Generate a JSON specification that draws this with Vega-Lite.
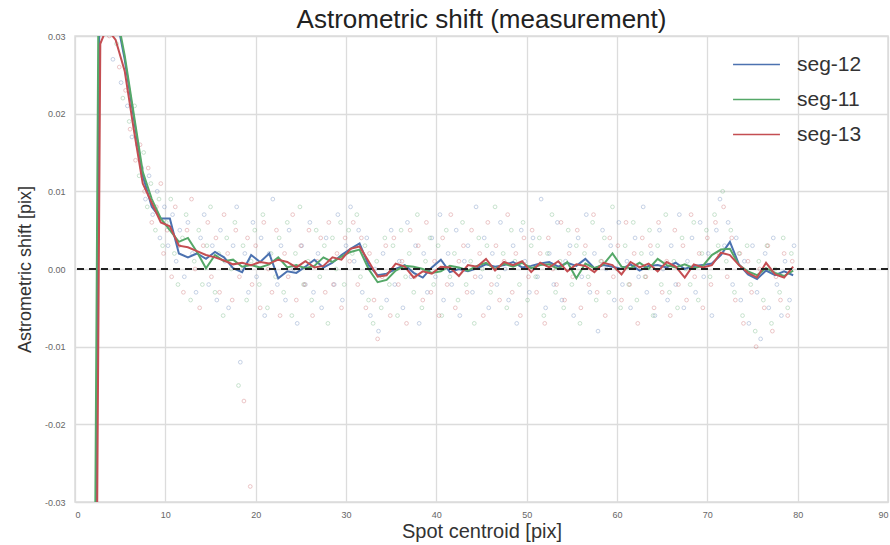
{
"$schema":"https://vega.github.io/schema/vega-lite/v6.json",
"width":813,"height":466,
"autosize":{"type":"none"},
"padding":{"left":75,"top":36,"right":2,"bottom":43},
"background":"white",
"title":{"text":"Astrometric shift (measurement)","fontSize":26,"font":"Liberation Sans","fontWeight":"normal","color":"#222","offset":-1},
"config":{
"view":{"stroke":"#dcdcdc","strokeWidth":1.5},
"axis":{"grid":true,"gridColor":"#dcdcdc","gridWidth":1.3,"ticks":false,"domain":false,"labelFont":"Liberation Sans","labelFontSize":9,"labelColor":"#666","titleFont":"Liberation Sans","titleFontSize":18,"titleFontWeight":"normal","titleColor":"#333"}
},
"datasets":{
"lines":[
{"seg":"seg-12","x":2.3,"y":-0.04},{"seg":"seg-12","x":2.7,"y":0.034},{"seg":"seg-12","x":3.5,"y":0.036},{"seg":"seg-12","x":4.5,"y":0.033},{"seg":"seg-12","x":5.5,"y":0.027},{"seg":"seg-12","x":6.5,"y":0.0195},{"seg":"seg-12","x":7.5,"y":0.012},{"seg":"seg-12","x":8.5,"y":0.008},{"seg":"seg-12","x":9.5,"y":0.0065},{"seg":"seg-12","x":10.5,"y":0.0065},{"seg":"seg-12","x":11.5,"y":0.002},{"seg":"seg-12","x":12.5,"y":0.0015},{"seg":"seg-12","x":13.5,"y":0.002},{"seg":"seg-12","x":14.5,"y":0.0013},{"seg":"seg-12","x":15.5,"y":0.0022},{"seg":"seg-12","x":16.5,"y":0.0015},{"seg":"seg-12","x":17.5,"y":0.0001},{"seg":"seg-12","x":18.5,"y":-0.0004},{"seg":"seg-12","x":19.5,"y":0.0018},{"seg":"seg-12","x":20.5,"y":0.0009},{"seg":"seg-12","x":21.5,"y":0.002},{"seg":"seg-12","x":22.5,"y":-0.0012},{"seg":"seg-12","x":23.5,"y":-0.0003},{"seg":"seg-12","x":24.5,"y":-0.0005},{"seg":"seg-12","x":25.5,"y":0.0003},{"seg":"seg-12","x":26.5,"y":0.0012},{"seg":"seg-12","x":27.5,"y":0.0002},{"seg":"seg-12","x":28.5,"y":0.0008},{"seg":"seg-12","x":29.5,"y":0.0018},{"seg":"seg-12","x":30.5,"y":0.0026},{"seg":"seg-12","x":31.5,"y":0.0033},{"seg":"seg-12","x":32.5,"y":0.0005},{"seg":"seg-12","x":33.5,"y":-0.0008},{"seg":"seg-12","x":34.5,"y":-0.0006},{"seg":"seg-12","x":35.5,"y":0.0},{"seg":"seg-12","x":36.5,"y":0.0005},{"seg":"seg-12","x":37.5,"y":-0.0005},{"seg":"seg-12","x":38.5,"y":-0.0011},{"seg":"seg-12","x":39.5,"y":0.0002},{"seg":"seg-12","x":40.5,"y":0.0012},{"seg":"seg-12","x":41.5,"y":-0.0004},{"seg":"seg-12","x":42.5,"y":0.0},{"seg":"seg-12","x":43.5,"y":-0.0003},{"seg":"seg-12","x":44.5,"y":0.0001},{"seg":"seg-12","x":45.5,"y":0.0006},{"seg":"seg-12","x":46.5,"y":0.0003},{"seg":"seg-12","x":47.5,"y":0.0005},{"seg":"seg-12","x":48.5,"y":0.0009},{"seg":"seg-12","x":49.5,"y":0.0002},{"seg":"seg-12","x":50.5,"y":0.0004},{"seg":"seg-12","x":51.5,"y":0.0007},{"seg":"seg-12","x":52.5,"y":0.0009},{"seg":"seg-12","x":53.5,"y":0.0003},{"seg":"seg-12","x":54.5,"y":0.0008},{"seg":"seg-12","x":55.5,"y":0.0004},{"seg":"seg-12","x":56.5,"y":0.0013},{"seg":"seg-12","x":57.5,"y":0.0001},{"seg":"seg-12","x":58.5,"y":0.0005},{"seg":"seg-12","x":59.5,"y":0.0003},{"seg":"seg-12","x":60.5,"y":0.0},{"seg":"seg-12","x":61.5,"y":0.0006},{"seg":"seg-12","x":62.5,"y":-0.0002},{"seg":"seg-12","x":63.5,"y":0.0004},{"seg":"seg-12","x":64.5,"y":0.0005},{"seg":"seg-12","x":65.5,"y":0.0002},{"seg":"seg-12","x":66.5,"y":0.0008},{"seg":"seg-12","x":67.5,"y":0.0},{"seg":"seg-12","x":68.5,"y":0.0004},{"seg":"seg-12","x":69.5,"y":0.0005},{"seg":"seg-12","x":70.5,"y":0.0007},{"seg":"seg-12","x":71.5,"y":0.0018},{"seg":"seg-12","x":72.5,"y":0.0035},{"seg":"seg-12","x":73.5,"y":0.0006},{"seg":"seg-12","x":74.5,"y":-0.0007},{"seg":"seg-12","x":75.5,"y":-0.0013},{"seg":"seg-12","x":76.5,"y":-0.0002},{"seg":"seg-12","x":77.5,"y":-0.0008},{"seg":"seg-12","x":78.5,"y":-0.0003},{"seg":"seg-12","x":79.5,"y":-0.0008},
{"seg":"seg-11","x":2.2,"y":-0.04},{"seg":"seg-11","x":2.6,"y":0.035},{"seg":"seg-11","x":3.5,"y":0.037},{"seg":"seg-11","x":4.5,"y":0.0335},{"seg":"seg-11","x":5.5,"y":0.0275},{"seg":"seg-11","x":6.5,"y":0.02},{"seg":"seg-11","x":7.5,"y":0.0125},{"seg":"seg-11","x":8.5,"y":0.009},{"seg":"seg-11","x":9.5,"y":0.0065},{"seg":"seg-11","x":10.5,"y":0.005},{"seg":"seg-11","x":11.5,"y":0.0035},{"seg":"seg-11","x":12.5,"y":0.004},{"seg":"seg-11","x":13.5,"y":0.0022},{"seg":"seg-11","x":14.5,"y":0.0001},{"seg":"seg-11","x":15.5,"y":0.0018},{"seg":"seg-11","x":16.5,"y":0.001},{"seg":"seg-11","x":17.5,"y":0.0012},{"seg":"seg-11","x":18.5,"y":0.0003},{"seg":"seg-11","x":19.5,"y":0.0005},{"seg":"seg-11","x":20.5,"y":0.0002},{"seg":"seg-11","x":21.5,"y":0.0006},{"seg":"seg-11","x":22.5,"y":0.0015},{"seg":"seg-11","x":23.5,"y":0.0002},{"seg":"seg-11","x":24.5,"y":0.0005},{"seg":"seg-11","x":25.5,"y":0.0001},{"seg":"seg-11","x":26.5,"y":0.0004},{"seg":"seg-11","x":27.5,"y":0.0015},{"seg":"seg-11","x":28.5,"y":0.0009},{"seg":"seg-11","x":29.5,"y":0.0016},{"seg":"seg-11","x":30.5,"y":0.0022},{"seg":"seg-11","x":31.5,"y":0.0025},{"seg":"seg-11","x":32.5,"y":0.0},{"seg":"seg-11","x":33.5,"y":-0.0017},{"seg":"seg-11","x":34.5,"y":-0.0014},{"seg":"seg-11","x":35.5,"y":-0.0002},{"seg":"seg-11","x":36.5,"y":0.0004},{"seg":"seg-11","x":37.5,"y":0.0003},{"seg":"seg-11","x":38.5,"y":0.0},{"seg":"seg-11","x":39.5,"y":-0.0005},{"seg":"seg-11","x":40.5,"y":-0.0003},{"seg":"seg-11","x":41.5,"y":0.0004},{"seg":"seg-11","x":42.5,"y":0.0002},{"seg":"seg-11","x":43.5,"y":-0.0002},{"seg":"seg-11","x":44.5,"y":0.0004},{"seg":"seg-11","x":45.5,"y":0.0008},{"seg":"seg-11","x":46.5,"y":0.0},{"seg":"seg-11","x":47.5,"y":0.0007},{"seg":"seg-11","x":48.5,"y":0.0003},{"seg":"seg-11","x":49.5,"y":0.0008},{"seg":"seg-11","x":50.5,"y":0.0001},{"seg":"seg-11","x":51.5,"y":0.0005},{"seg":"seg-11","x":52.5,"y":0.0006},{"seg":"seg-11","x":53.5,"y":0.0},{"seg":"seg-11","x":54.5,"y":0.0009},{"seg":"seg-11","x":55.5,"y":-0.0012},{"seg":"seg-11","x":56.5,"y":0.0007},{"seg":"seg-11","x":57.5,"y":0.0001},{"seg":"seg-11","x":58.5,"y":0.0006},{"seg":"seg-11","x":59.5,"y":0.002},{"seg":"seg-11","x":60.5,"y":0.0003},{"seg":"seg-11","x":61.5,"y":0.0001},{"seg":"seg-11","x":62.5,"y":0.0008},{"seg":"seg-11","x":63.5,"y":0.0},{"seg":"seg-11","x":64.5,"y":0.0013},{"seg":"seg-11","x":65.5,"y":0.0005},{"seg":"seg-11","x":66.5,"y":0.0002},{"seg":"seg-11","x":67.5,"y":0.0006},{"seg":"seg-11","x":68.5,"y":0.0001},{"seg":"seg-11","x":69.5,"y":0.0004},{"seg":"seg-11","x":70.5,"y":0.0018},{"seg":"seg-11","x":71.5,"y":0.0025},{"seg":"seg-11","x":72.5,"y":0.0026},{"seg":"seg-11","x":73.5,"y":0.0005},{"seg":"seg-11","x":74.5,"y":-0.0003},{"seg":"seg-11","x":75.5,"y":-0.0008},{"seg":"seg-11","x":76.5,"y":0.0001},{"seg":"seg-11","x":77.5,"y":-0.0005},{"seg":"seg-11","x":78.5,"y":-0.0009},{"seg":"seg-11","x":79.5,"y":-0.0002},
{"seg":"seg-13","x":2.4,"y":-0.04},{"seg":"seg-13","x":2.8,"y":0.029},{"seg":"seg-13","x":3.5,"y":0.031},{"seg":"seg-13","x":4.5,"y":0.0295},{"seg":"seg-13","x":5.5,"y":0.0255},{"seg":"seg-13","x":6.5,"y":0.018},{"seg":"seg-13","x":7.5,"y":0.011},{"seg":"seg-13","x":8.5,"y":0.0085},{"seg":"seg-13","x":9.5,"y":0.006},{"seg":"seg-13","x":10.5,"y":0.0055},{"seg":"seg-13","x":11.5,"y":0.003},{"seg":"seg-13","x":12.5,"y":0.0028},{"seg":"seg-13","x":13.5,"y":0.0023},{"seg":"seg-13","x":14.5,"y":0.0018},{"seg":"seg-13","x":15.5,"y":0.0015},{"seg":"seg-13","x":16.5,"y":0.0011},{"seg":"seg-13","x":17.5,"y":0.0006},{"seg":"seg-13","x":18.5,"y":0.0008},{"seg":"seg-13","x":19.5,"y":0.0005},{"seg":"seg-13","x":20.5,"y":0.0009},{"seg":"seg-13","x":21.5,"y":0.0007},{"seg":"seg-13","x":22.5,"y":0.0012},{"seg":"seg-13","x":23.5,"y":0.0009},{"seg":"seg-13","x":24.5,"y":0.0002},{"seg":"seg-13","x":25.5,"y":0.001},{"seg":"seg-13","x":26.5,"y":0.0002},{"seg":"seg-13","x":27.5,"y":0.0004},{"seg":"seg-13","x":28.5,"y":0.0015},{"seg":"seg-13","x":29.5,"y":0.0012},{"seg":"seg-13","x":30.5,"y":0.0026},{"seg":"seg-13","x":31.5,"y":0.0029},{"seg":"seg-13","x":32.5,"y":0.001},{"seg":"seg-13","x":33.5,"y":-0.001},{"seg":"seg-13","x":34.5,"y":-0.0008},{"seg":"seg-13","x":35.5,"y":0.0007},{"seg":"seg-13","x":36.5,"y":0.0003},{"seg":"seg-13","x":37.5,"y":-0.0011},{"seg":"seg-13","x":38.5,"y":-0.0003},{"seg":"seg-13","x":39.5,"y":-0.0006},{"seg":"seg-13","x":40.5,"y":0.0003},{"seg":"seg-13","x":41.5,"y":0.0002},{"seg":"seg-13","x":42.5,"y":-0.0009},{"seg":"seg-13","x":43.5,"y":0.0005},{"seg":"seg-13","x":44.5,"y":0.0003},{"seg":"seg-13","x":45.5,"y":0.0013},{"seg":"seg-13","x":46.5,"y":-0.0002},{"seg":"seg-13","x":47.5,"y":0.0009},{"seg":"seg-13","x":48.5,"y":0.0005},{"seg":"seg-13","x":49.5,"y":0.001},{"seg":"seg-13","x":50.5,"y":-0.0004},{"seg":"seg-13","x":51.5,"y":0.0008},{"seg":"seg-13","x":52.5,"y":0.0002},{"seg":"seg-13","x":53.5,"y":0.001},{"seg":"seg-13","x":54.5,"y":-0.0003},{"seg":"seg-13","x":55.5,"y":0.0006},{"seg":"seg-13","x":56.5,"y":0.0004},{"seg":"seg-13","x":57.5,"y":-0.0004},{"seg":"seg-13","x":58.5,"y":0.0008},{"seg":"seg-13","x":59.5,"y":0.0005},{"seg":"seg-13","x":60.5,"y":-0.0007},{"seg":"seg-13","x":61.5,"y":0.0009},{"seg":"seg-13","x":62.5,"y":0.0002},{"seg":"seg-13","x":63.5,"y":0.0007},{"seg":"seg-13","x":64.5,"y":-0.0003},{"seg":"seg-13","x":65.5,"y":0.0009},{"seg":"seg-13","x":66.5,"y":0.0003},{"seg":"seg-13","x":67.5,"y":-0.0011},{"seg":"seg-13","x":68.5,"y":0.0006},{"seg":"seg-13","x":69.5,"y":0.0002},{"seg":"seg-13","x":70.5,"y":0.0005},{"seg":"seg-13","x":71.5,"y":0.0021},{"seg":"seg-13","x":72.5,"y":0.0018},{"seg":"seg-13","x":73.5,"y":0.0005},{"seg":"seg-13","x":74.5,"y":-0.0005},{"seg":"seg-13","x":75.5,"y":-0.0011},{"seg":"seg-13","x":76.5,"y":0.0008},{"seg":"seg-13","x":77.5,"y":-0.0007},{"seg":"seg-13","x":78.5,"y":-0.0011},{"seg":"seg-13","x":79.5,"y":0.0003}
],
"pts":[
{"seg":"seg-12","x":4.2,"y":0.027},{"seg":"seg-12","x":5.1,"y":0.024},{"seg":"seg-12","x":5.8,"y":0.021},{"seg":"seg-12","x":6.3,"y":0.017},{"seg":"seg-12","x":6.9,"y":0.016},{"seg":"seg-12","x":7.4,"y":0.013},{"seg":"seg-12","x":7.8,"y":0.009},{"seg":"seg-12","x":8.2,"y":0.012},{"seg":"seg-12","x":8.6,"y":0.007},{"seg":"seg-12","x":9.1,"y":0.010},{"seg":"seg-12","x":9.4,"y":0.004},{"seg":"seg-12","x":9.9,"y":0.008},{"seg":"seg-12","x":10.3,"y":0.003},{"seg":"seg-12","x":10.8,"y":0.007},{"seg":"seg-12","x":11.2,"y":0.001},{"seg":"seg-12","x":11.6,"y":0.005},{"seg":"seg-12","x":12.1,"y":-0.001},{"seg":"seg-12","x":12.5,"y":0.006},{"seg":"seg-12","x":13.0,"y":0.002},{"seg":"seg-12","x":13.4,"y":-0.003},{"seg":"seg-12","x":13.9,"y":0.004},{"seg":"seg-12","x":14.3,"y":0.007},{"seg":"seg-12","x":14.8,"y":-0.002},{"seg":"seg-12","x":15.2,"y":0.003},{"seg":"seg-12","x":15.7,"y":-0.004},{"seg":"seg-12","x":16.1,"y":0.005},{"seg":"seg-12","x":16.6,"y":0.001},{"seg":"seg-12","x":17.0,"y":-0.005},{"seg":"seg-12","x":17.5,"y":0.003},{"seg":"seg-12","x":17.9,"y":0.008},{"seg":"seg-12","x":18.3,"y":-0.012},{"seg":"seg-12","x":18.8,"y":0.002},{"seg":"seg-12","x":19.2,"y":-0.003},{"seg":"seg-12","x":19.7,"y":0.006},{"seg":"seg-12","x":20.1,"y":-0.001},{"seg":"seg-12","x":20.6,"y":0.004},{"seg":"seg-12","x":21.0,"y":-0.006},{"seg":"seg-12","x":21.5,"y":0.002},{"seg":"seg-12","x":21.9,"y":0.009},{"seg":"seg-12","x":22.4,"y":-0.002},{"seg":"seg-12","x":22.8,"y":0.003},{"seg":"seg-12","x":23.3,"y":-0.004},{"seg":"seg-12","x":23.7,"y":0.005},{"seg":"seg-12","x":24.2,"y":0.0},{"seg":"seg-12","x":24.6,"y":-0.007},{"seg":"seg-12","x":25.1,"y":0.003},{"seg":"seg-12","x":25.5,"y":-0.002},{"seg":"seg-12","x":26.0,"y":0.006},{"seg":"seg-12","x":26.4,"y":-0.003},{"seg":"seg-12","x":26.9,"y":0.002},{"seg":"seg-12","x":27.3,"y":-0.005},{"seg":"seg-12","x":27.8,"y":0.004},{"seg":"seg-12","x":28.2,"y":0.001},{"seg":"seg-12","x":28.7,"y":-0.002},{"seg":"seg-12","x":29.1,"y":0.007},{"seg":"seg-12","x":29.6,"y":-0.004},{"seg":"seg-12","x":30.0,"y":0.003},{"seg":"seg-12","x":30.5,"y":0.008},{"seg":"seg-12","x":30.9,"y":0.001},{"seg":"seg-12","x":31.4,"y":0.005},{"seg":"seg-12","x":31.8,"y":-0.003},{"seg":"seg-12","x":32.3,"y":0.004},{"seg":"seg-12","x":32.7,"y":-0.006},{"seg":"seg-12","x":33.2,"y":0.0},{"seg":"seg-12","x":33.6,"y":-0.008},{"seg":"seg-12","x":34.1,"y":0.002},{"seg":"seg-12","x":34.5,"y":-0.004},{"seg":"seg-12","x":35.0,"y":0.005},{"seg":"seg-12","x":35.4,"y":-0.002},{"seg":"seg-12","x":35.9,"y":0.001},{"seg":"seg-12","x":36.3,"y":-0.005},{"seg":"seg-12","x":36.8,"y":0.006},{"seg":"seg-12","x":37.2,"y":-0.001},{"seg":"seg-12","x":37.7,"y":0.003},{"seg":"seg-12","x":38.1,"y":-0.007},{"seg":"seg-12","x":38.6,"y":0.002},{"seg":"seg-12","x":39.0,"y":-0.003},{"seg":"seg-12","x":39.5,"y":0.004},{"seg":"seg-12","x":39.9,"y":-0.001},{"seg":"seg-12","x":40.4,"y":0.007},{"seg":"seg-12","x":40.8,"y":-0.004},{"seg":"seg-12","x":41.3,"y":0.002},{"seg":"seg-12","x":41.7,"y":-0.002},{"seg":"seg-12","x":42.2,"y":0.005},{"seg":"seg-12","x":42.6,"y":-0.006},{"seg":"seg-12","x":43.1,"y":0.001},{"seg":"seg-12","x":43.5,"y":0.003},{"seg":"seg-12","x":44.0,"y":-0.003},{"seg":"seg-12","x":44.4,"y":0.008},{"seg":"seg-12","x":44.9,"y":-0.001},{"seg":"seg-12","x":45.3,"y":0.004},{"seg":"seg-12","x":45.8,"y":-0.005},{"seg":"seg-12","x":46.2,"y":0.002},{"seg":"seg-12","x":46.7,"y":-0.002},{"seg":"seg-12","x":47.1,"y":0.006},{"seg":"seg-12","x":47.6,"y":0.0},{"seg":"seg-12","x":48.0,"y":-0.004},{"seg":"seg-12","x":48.5,"y":0.003},{"seg":"seg-12","x":48.9,"y":-0.007},{"seg":"seg-12","x":49.4,"y":0.005},{"seg":"seg-12","x":49.8,"y":0.001},{"seg":"seg-12","x":50.3,"y":-0.003},{"seg":"seg-12","x":50.7,"y":0.004},{"seg":"seg-12","x":51.2,"y":-0.001},{"seg":"seg-12","x":51.6,"y":0.009},{"seg":"seg-12","x":52.1,"y":-0.005},{"seg":"seg-12","x":52.5,"y":0.002},{"seg":"seg-12","x":53.0,"y":-0.002},{"seg":"seg-12","x":53.4,"y":0.006},{"seg":"seg-12","x":53.9,"y":-0.004},{"seg":"seg-12","x":54.3,"y":0.001},{"seg":"seg-12","x":54.8,"y":0.003},{"seg":"seg-12","x":55.2,"y":-0.006},{"seg":"seg-12","x":55.7,"y":0.004},{"seg":"seg-12","x":56.1,"y":-0.001},{"seg":"seg-12","x":56.6,"y":0.007},{"seg":"seg-12","x":57.0,"y":-0.003},{"seg":"seg-12","x":57.5,"y":0.002},{"seg":"seg-12","x":57.9,"y":-0.008},{"seg":"seg-12","x":58.4,"y":0.005},{"seg":"seg-12","x":58.8,"y":0.0},{"seg":"seg-12","x":59.3,"y":0.003},{"seg":"seg-12","x":59.7,"y":-0.004},{"seg":"seg-12","x":60.2,"y":0.006},{"seg":"seg-12","x":60.6,"y":-0.002},{"seg":"seg-12","x":61.1,"y":0.001},{"seg":"seg-12","x":61.5,"y":-0.005},{"seg":"seg-12","x":62.0,"y":0.004},{"seg":"seg-12","x":62.4,"y":-0.001},{"seg":"seg-12","x":62.9,"y":0.008},{"seg":"seg-12","x":63.3,"y":-0.003},{"seg":"seg-12","x":63.8,"y":0.002},{"seg":"seg-12","x":64.2,"y":-0.006},{"seg":"seg-12","x":64.7,"y":0.005},{"seg":"seg-12","x":65.1,"y":0.0},{"seg":"seg-12","x":65.6,"y":-0.004},{"seg":"seg-12","x":66.0,"y":0.003},{"seg":"seg-12","x":66.5,"y":-0.002},{"seg":"seg-12","x":66.9,"y":0.007},{"seg":"seg-12","x":67.4,"y":-0.005},{"seg":"seg-12","x":67.8,"y":0.001},{"seg":"seg-12","x":68.3,"y":0.004},{"seg":"seg-12","x":68.7,"y":-0.003},{"seg":"seg-12","x":69.2,"y":0.006},{"seg":"seg-12","x":69.6,"y":-0.001},{"seg":"seg-12","x":70.1,"y":0.002},{"seg":"seg-12","x":70.5,"y":-0.006},{"seg":"seg-12","x":71.0,"y":0.005},{"seg":"seg-12","x":71.4,"y":0.009},{"seg":"seg-12","x":71.9,"y":0.003},{"seg":"seg-12","x":72.3,"y":0.006},{"seg":"seg-12","x":72.8,"y":-0.002},{"seg":"seg-12","x":73.2,"y":0.004},{"seg":"seg-12","x":73.7,"y":-0.004},{"seg":"seg-12","x":74.1,"y":0.001},{"seg":"seg-12","x":74.6,"y":-0.007},{"seg":"seg-12","x":75.0,"y":0.003},{"seg":"seg-12","x":75.5,"y":-0.003},{"seg":"seg-12","x":75.9,"y":-0.009},{"seg":"seg-12","x":76.4,"y":0.002},{"seg":"seg-12","x":76.8,"y":-0.005},{"seg":"seg-12","x":77.3,"y":0.004},{"seg":"seg-12","x":77.7,"y":-0.002},{"seg":"seg-12","x":78.2,"y":-0.006},{"seg":"seg-12","x":78.6,"y":0.001},{"seg":"seg-12","x":79.1,"y":-0.004},{"seg":"seg-12","x":79.6,"y":0.003},
{"seg":"seg-11","x":4.6,"y":0.029},{"seg":"seg-11","x":5.3,"y":0.022},{"seg":"seg-11","x":6.0,"y":0.019},{"seg":"seg-11","x":6.6,"y":0.021},{"seg":"seg-11","x":7.1,"y":0.012},{"seg":"seg-11","x":7.6,"y":0.015},{"seg":"seg-11","x":8.0,"y":0.008},{"seg":"seg-11","x":8.4,"y":0.011},{"seg":"seg-11","x":8.9,"y":0.005},{"seg":"seg-11","x":9.3,"y":0.009},{"seg":"seg-11","x":9.7,"y":0.003},{"seg":"seg-11","x":10.1,"y":0.006},{"seg":"seg-11","x":10.6,"y":0.009},{"seg":"seg-11","x":11.0,"y":0.002},{"seg":"seg-11","x":11.4,"y":-0.002},{"seg":"seg-11","x":11.9,"y":0.004},{"seg":"seg-11","x":12.3,"y":0.007},{"seg":"seg-11","x":12.8,"y":-0.004},{"seg":"seg-11","x":13.2,"y":0.001},{"seg":"seg-11","x":13.7,"y":0.005},{"seg":"seg-11","x":14.1,"y":-0.002},{"seg":"seg-11","x":14.6,"y":0.003},{"seg":"seg-11","x":15.0,"y":0.008},{"seg":"seg-11","x":15.5,"y":-0.003},{"seg":"seg-11","x":15.9,"y":0.002},{"seg":"seg-11","x":16.4,"y":-0.006},{"seg":"seg-11","x":16.8,"y":0.004},{"seg":"seg-11","x":17.3,"y":0.0},{"seg":"seg-11","x":17.7,"y":0.006},{"seg":"seg-11","x":18.1,"y":-0.015},{"seg":"seg-11","x":18.6,"y":0.003},{"seg":"seg-11","x":19.0,"y":-0.004},{"seg":"seg-11","x":19.5,"y":0.001},{"seg":"seg-11","x":19.9,"y":0.005},{"seg":"seg-11","x":20.4,"y":-0.002},{"seg":"seg-11","x":20.8,"y":0.007},{"seg":"seg-11","x":21.3,"y":-0.005},{"seg":"seg-11","x":21.7,"y":0.002},{"seg":"seg-11","x":22.2,"y":-0.001},{"seg":"seg-11","x":22.6,"y":0.004},{"seg":"seg-11","x":23.1,"y":-0.003},{"seg":"seg-11","x":23.5,"y":0.006},{"seg":"seg-11","x":24.0,"y":-0.006},{"seg":"seg-11","x":24.4,"y":0.002},{"seg":"seg-11","x":24.9,"y":0.008},{"seg":"seg-11","x":25.3,"y":-0.002},{"seg":"seg-11","x":25.8,"y":0.001},{"seg":"seg-11","x":26.2,"y":-0.004},{"seg":"seg-11","x":26.7,"y":0.005},{"seg":"seg-11","x":27.1,"y":-0.001},{"seg":"seg-11","x":27.6,"y":0.003},{"seg":"seg-11","x":28.0,"y":-0.007},{"seg":"seg-11","x":28.5,"y":0.004},{"seg":"seg-11","x":28.9,"y":0.0},{"seg":"seg-11","x":29.4,"y":0.006},{"seg":"seg-11","x":29.8,"y":-0.002},{"seg":"seg-11","x":30.3,"y":0.005},{"seg":"seg-11","x":30.7,"y":0.002},{"seg":"seg-11","x":31.2,"y":0.007},{"seg":"seg-11","x":31.6,"y":-0.001},{"seg":"seg-11","x":32.1,"y":0.003},{"seg":"seg-11","x":32.5,"y":-0.004},{"seg":"seg-11","x":33.0,"y":-0.007},{"seg":"seg-11","x":33.4,"y":0.001},{"seg":"seg-11","x":33.9,"y":-0.005},{"seg":"seg-11","x":34.3,"y":0.004},{"seg":"seg-11","x":34.8,"y":-0.002},{"seg":"seg-11","x":35.2,"y":0.003},{"seg":"seg-11","x":35.7,"y":-0.006},{"seg":"seg-11","x":36.1,"y":0.005},{"seg":"seg-11","x":36.6,"y":-0.001},{"seg":"seg-11","x":37.0,"y":0.002},{"seg":"seg-11","x":37.5,"y":-0.003},{"seg":"seg-11","x":37.9,"y":0.007},{"seg":"seg-11","x":38.4,"y":-0.005},{"seg":"seg-11","x":38.8,"y":0.001},{"seg":"seg-11","x":39.3,"y":0.004},{"seg":"seg-11","x":39.7,"y":-0.002},{"seg":"seg-11","x":40.2,"y":0.003},{"seg":"seg-11","x":40.6,"y":-0.006},{"seg":"seg-11","x":41.1,"y":0.005},{"seg":"seg-11","x":41.5,"y":-0.001},{"seg":"seg-11","x":42.0,"y":0.002},{"seg":"seg-11","x":42.4,"y":-0.004},{"seg":"seg-11","x":42.9,"y":0.006},{"seg":"seg-11","x":43.3,"y":-0.002},{"seg":"seg-11","x":43.8,"y":0.001},{"seg":"seg-11","x":44.2,"y":-0.007},{"seg":"seg-11","x":44.7,"y":0.004},{"seg":"seg-11","x":45.1,"y":0.0},{"seg":"seg-11","x":45.6,"y":0.003},{"seg":"seg-11","x":46.0,"y":-0.003},{"seg":"seg-11","x":46.5,"y":0.008},{"seg":"seg-11","x":46.9,"y":-0.001},{"seg":"seg-11","x":47.4,"y":0.002},{"seg":"seg-11","x":47.8,"y":-0.005},{"seg":"seg-11","x":48.3,"y":0.005},{"seg":"seg-11","x":48.7,"y":0.001},{"seg":"seg-11","x":49.2,"y":-0.002},{"seg":"seg-11","x":49.6,"y":0.006},{"seg":"seg-11","x":50.1,"y":-0.004},{"seg":"seg-11","x":50.5,"y":0.003},{"seg":"seg-11","x":51.0,"y":-0.001},{"seg":"seg-11","x":51.4,"y":0.004},{"seg":"seg-11","x":51.9,"y":-0.006},{"seg":"seg-11","x":52.3,"y":0.002},{"seg":"seg-11","x":52.8,"y":0.007},{"seg":"seg-11","x":53.2,"y":-0.003},{"seg":"seg-11","x":53.7,"y":0.001},{"seg":"seg-11","x":54.1,"y":-0.005},{"seg":"seg-11","x":54.6,"y":0.005},{"seg":"seg-11","x":55.0,"y":-0.002},{"seg":"seg-11","x":55.5,"y":0.003},{"seg":"seg-11","x":55.9,"y":-0.007},{"seg":"seg-11","x":56.4,"y":0.002},{"seg":"seg-11","x":56.8,"y":-0.001},{"seg":"seg-11","x":57.3,"y":0.006},{"seg":"seg-11","x":57.7,"y":-0.004},{"seg":"seg-11","x":58.2,"y":0.001},{"seg":"seg-11","x":58.6,"y":0.004},{"seg":"seg-11","x":59.1,"y":-0.003},{"seg":"seg-11","x":59.5,"y":0.008},{"seg":"seg-11","x":60.0,"y":0.0},{"seg":"seg-11","x":60.4,"y":-0.005},{"seg":"seg-11","x":60.9,"y":0.003},{"seg":"seg-11","x":61.3,"y":-0.002},{"seg":"seg-11","x":61.8,"y":0.006},{"seg":"seg-11","x":62.2,"y":-0.004},{"seg":"seg-11","x":62.7,"y":0.002},{"seg":"seg-11","x":63.1,"y":-0.001},{"seg":"seg-11","x":63.6,"y":0.005},{"seg":"seg-11","x":64.0,"y":-0.006},{"seg":"seg-11","x":64.5,"y":0.003},{"seg":"seg-11","x":64.9,"y":-0.002},{"seg":"seg-11","x":65.4,"y":0.007},{"seg":"seg-11","x":65.8,"y":-0.003},{"seg":"seg-11","x":66.3,"y":0.001},{"seg":"seg-11","x":66.7,"y":-0.005},{"seg":"seg-11","x":67.2,"y":0.004},{"seg":"seg-11","x":67.6,"y":0.0},{"seg":"seg-11","x":68.1,"y":-0.002},{"seg":"seg-11","x":68.5,"y":0.006},{"seg":"seg-11","x":69.0,"y":-0.004},{"seg":"seg-11","x":69.4,"y":0.002},{"seg":"seg-11","x":69.9,"y":0.005},{"seg":"seg-11","x":70.3,"y":-0.001},{"seg":"seg-11","x":70.8,"y":0.007},{"seg":"seg-11","x":71.2,"y":0.003},{"seg":"seg-11","x":71.7,"y":0.010},{"seg":"seg-11","x":72.1,"y":0.001},{"seg":"seg-11","x":72.6,"y":0.005},{"seg":"seg-11","x":73.0,"y":-0.003},{"seg":"seg-11","x":73.5,"y":0.002},{"seg":"seg-11","x":73.9,"y":-0.006},{"seg":"seg-11","x":74.4,"y":0.003},{"seg":"seg-11","x":74.8,"y":-0.002},{"seg":"seg-11","x":75.3,"y":-0.008},{"seg":"seg-11","x":75.7,"y":0.001},{"seg":"seg-11","x":76.2,"y":-0.004},{"seg":"seg-11","x":76.6,"y":0.003},{"seg":"seg-11","x":77.1,"y":-0.007},{"seg":"seg-11","x":77.5,"y":0.0},{"seg":"seg-11","x":78.0,"y":-0.003},{"seg":"seg-11","x":78.4,"y":0.004},{"seg":"seg-11","x":78.9,"y":-0.005},{"seg":"seg-11","x":79.3,"y":0.002},
{"seg":"seg-13","x":3.8,"y":0.030},{"seg":"seg-13","x":4.9,"y":0.026},{"seg":"seg-13","x":5.6,"y":0.023},{"seg":"seg-13","x":6.1,"y":0.018},{"seg":"seg-13","x":6.7,"y":0.014},{"seg":"seg-13","x":7.2,"y":0.016},{"seg":"seg-13","x":7.7,"y":0.010},{"seg":"seg-13","x":8.1,"y":0.013},{"seg":"seg-13","x":8.5,"y":0.006},{"seg":"seg-13","x":9.0,"y":0.008},{"seg":"seg-13","x":9.5,"y":0.011},{"seg":"seg-13","x":9.8,"y":0.002},{"seg":"seg-13","x":10.2,"y":0.005},{"seg":"seg-13","x":10.7,"y":-0.001},{"seg":"seg-13","x":11.1,"y":0.008},{"seg":"seg-13","x":11.5,"y":0.003},{"seg":"seg-13","x":12.0,"y":-0.003},{"seg":"seg-13","x":12.4,"y":0.005},{"seg":"seg-13","x":12.9,"y":0.009},{"seg":"seg-13","x":13.3,"y":0.0},{"seg":"seg-13","x":13.8,"y":-0.005},{"seg":"seg-13","x":14.2,"y":0.003},{"seg":"seg-13","x":14.7,"y":0.006},{"seg":"seg-13","x":15.1,"y":-0.001},{"seg":"seg-13","x":15.6,"y":0.004},{"seg":"seg-13","x":16.0,"y":-0.003},{"seg":"seg-13","x":16.5,"y":0.007},{"seg":"seg-13","x":16.9,"y":0.002},{"seg":"seg-13","x":17.4,"y":-0.004},{"seg":"seg-13","x":17.8,"y":0.005},{"seg":"seg-13","x":18.2,"y":-0.001},{"seg":"seg-13","x":18.7,"y":-0.017},{"seg":"seg-13","x":19.1,"y":0.004},{"seg":"seg-13","x":19.4,"y":-0.028},{"seg":"seg-13","x":19.6,"y":-0.002},{"seg":"seg-13","x":20.0,"y":0.003},{"seg":"seg-13","x":20.5,"y":-0.005},{"seg":"seg-13","x":20.9,"y":0.006},{"seg":"seg-13","x":21.4,"y":0.0},{"seg":"seg-13","x":21.8,"y":-0.003},{"seg":"seg-13","x":22.3,"y":0.005},{"seg":"seg-13","x":22.7,"y":-0.006},{"seg":"seg-13","x":23.2,"y":0.002},{"seg":"seg-13","x":23.6,"y":-0.001},{"seg":"seg-13","x":24.1,"y":0.007},{"seg":"seg-13","x":24.5,"y":-0.004},{"seg":"seg-13","x":25.0,"y":0.003},{"seg":"seg-13","x":25.4,"y":-0.002},{"seg":"seg-13","x":25.9,"y":0.005},{"seg":"seg-13","x":26.3,"y":-0.006},{"seg":"seg-13","x":26.8,"y":0.001},{"seg":"seg-13","x":27.2,"y":0.004},{"seg":"seg-13","x":27.7,"y":-0.003},{"seg":"seg-13","x":28.1,"y":0.006},{"seg":"seg-13","x":28.6,"y":-0.002},{"seg":"seg-13","x":29.0,"y":0.002},{"seg":"seg-13","x":29.5,"y":-0.005},{"seg":"seg-13","x":29.9,"y":0.004},{"seg":"seg-13","x":30.4,"y":0.001},{"seg":"seg-13","x":30.8,"y":0.006},{"seg":"seg-13","x":31.3,"y":-0.002},{"seg":"seg-13","x":31.7,"y":0.004},{"seg":"seg-13","x":32.2,"y":-0.005},{"seg":"seg-13","x":32.6,"y":0.002},{"seg":"seg-13","x":33.1,"y":-0.004},{"seg":"seg-13","x":33.5,"y":-0.009},{"seg":"seg-13","x":34.0,"y":-0.001},{"seg":"seg-13","x":34.4,"y":0.003},{"seg":"seg-13","x":34.9,"y":-0.006},{"seg":"seg-13","x":35.3,"y":0.004},{"seg":"seg-13","x":35.8,"y":-0.002},{"seg":"seg-13","x":36.2,"y":0.001},{"seg":"seg-13","x":36.7,"y":-0.007},{"seg":"seg-13","x":37.1,"y":0.005},{"seg":"seg-13","x":37.6,"y":-0.001},{"seg":"seg-13","x":38.0,"y":0.003},{"seg":"seg-13","x":38.5,"y":-0.004},{"seg":"seg-13","x":38.9,"y":0.006},{"seg":"seg-13","x":39.4,"y":-0.003},{"seg":"seg-13","x":39.8,"y":0.001},{"seg":"seg-13","x":40.3,"y":-0.006},{"seg":"seg-13","x":40.7,"y":0.004},{"seg":"seg-13","x":41.2,"y":-0.002},{"seg":"seg-13","x":41.6,"y":0.007},{"seg":"seg-13","x":42.1,"y":-0.005},{"seg":"seg-13","x":42.5,"y":0.001},{"seg":"seg-13","x":43.0,"y":0.003},{"seg":"seg-13","x":43.4,"y":-0.003},{"seg":"seg-13","x":43.9,"y":0.005},{"seg":"seg-13","x":44.3,"y":-0.001},{"seg":"seg-13","x":44.8,"y":0.002},{"seg":"seg-13","x":45.2,"y":-0.006},{"seg":"seg-13","x":45.7,"y":0.006},{"seg":"seg-13","x":46.1,"y":-0.002},{"seg":"seg-13","x":46.6,"y":0.003},{"seg":"seg-13","x":47.0,"y":-0.004},{"seg":"seg-13","x":47.5,"y":0.001},{"seg":"seg-13","x":47.9,"y":0.007},{"seg":"seg-13","x":48.4,"y":-0.003},{"seg":"seg-13","x":48.8,"y":0.002},{"seg":"seg-13","x":49.3,"y":-0.006},{"seg":"seg-13","x":49.7,"y":0.004},{"seg":"seg-13","x":50.2,"y":-0.001},{"seg":"seg-13","x":50.6,"y":0.005},{"seg":"seg-13","x":51.1,"y":-0.003},{"seg":"seg-13","x":51.5,"y":0.002},{"seg":"seg-13","x":52.0,"y":-0.007},{"seg":"seg-13","x":52.4,"y":0.004},{"seg":"seg-13","x":52.9,"y":0.0},{"seg":"seg-13","x":53.3,"y":-0.002},{"seg":"seg-13","x":53.8,"y":0.006},{"seg":"seg-13","x":54.2,"y":-0.004},{"seg":"seg-13","x":54.7,"y":0.002},{"seg":"seg-13","x":55.1,"y":-0.001},{"seg":"seg-13","x":55.6,"y":0.005},{"seg":"seg-13","x":56.0,"y":-0.005},{"seg":"seg-13","x":56.5,"y":0.003},{"seg":"seg-13","x":56.9,"y":-0.002},{"seg":"seg-13","x":57.4,"y":0.007},{"seg":"seg-13","x":57.8,"y":-0.003},{"seg":"seg-13","x":58.3,"y":0.001},{"seg":"seg-13","x":58.7,"y":-0.006},{"seg":"seg-13","x":59.2,"y":0.004},{"seg":"seg-13","x":59.6,"y":-0.001},{"seg":"seg-13","x":60.1,"y":0.003},{"seg":"seg-13","x":60.5,"y":-0.004},{"seg":"seg-13","x":61.0,"y":0.006},{"seg":"seg-13","x":61.4,"y":-0.002},{"seg":"seg-13","x":61.9,"y":0.002},{"seg":"seg-13","x":62.3,"y":-0.007},{"seg":"seg-13","x":62.8,"y":0.004},{"seg":"seg-13","x":63.2,"y":-0.001},{"seg":"seg-13","x":63.7,"y":0.003},{"seg":"seg-13","x":64.1,"y":-0.005},{"seg":"seg-13","x":64.6,"y":0.006},{"seg":"seg-13","x":65.0,"y":-0.003},{"seg":"seg-13","x":65.5,"y":0.001},{"seg":"seg-13","x":65.9,"y":-0.006},{"seg":"seg-13","x":66.4,"y":0.005},{"seg":"seg-13","x":66.8,"y":-0.002},{"seg":"seg-13","x":67.3,"y":0.003},{"seg":"seg-13","x":67.7,"y":-0.004},{"seg":"seg-13","x":68.2,"y":0.007},{"seg":"seg-13","x":68.6,"y":-0.001},{"seg":"seg-13","x":69.1,"y":0.002},{"seg":"seg-13","x":69.5,"y":-0.005},{"seg":"seg-13","x":70.0,"y":0.004},{"seg":"seg-13","x":70.4,"y":-0.002},{"seg":"seg-13","x":70.9,"y":0.006},{"seg":"seg-13","x":71.3,"y":0.002},{"seg":"seg-13","x":71.8,"y":0.008},{"seg":"seg-13","x":72.2,"y":-0.001},{"seg":"seg-13","x":72.7,"y":0.004},{"seg":"seg-13","x":73.1,"y":-0.004},{"seg":"seg-13","x":73.6,"y":0.002},{"seg":"seg-13","x":74.0,"y":-0.007},{"seg":"seg-13","x":74.5,"y":0.001},{"seg":"seg-13","x":74.9,"y":-0.003},{"seg":"seg-13","x":75.4,"y":-0.010},{"seg":"seg-13","x":75.8,"y":0.0},{"seg":"seg-13","x":76.3,"y":-0.005},{"seg":"seg-13","x":76.7,"y":0.003},{"seg":"seg-13","x":77.2,"y":-0.008},{"seg":"seg-13","x":77.6,"y":-0.001},{"seg":"seg-13","x":78.1,"y":-0.004},{"seg":"seg-13","x":78.5,"y":0.002},{"seg":"seg-13","x":78.9,"y":-0.006},{"seg":"seg-13","x":79.4,"y":0.001}
]
},
"layer":[
{"data":{"name":"pts"},
 "mark":{"type":"point","filled":false,"size":14,"strokeWidth":0.8,"opacity":0.4,"clip":true},
 "encoding":{
  "x":{"field":"x","type":"quantitative","scale":{"domain":[0,90],"nice":false},"axis":{"values":[0,10,20,30,40,50,60,70,80,90],"title":"Spot centroid [pix]","titleFontSize":20,"labelPadding":8,"titlePadding":2}},
  "y":{"field":"y","type":"quantitative","scale":{"domain":[-0.03,0.03],"nice":false},"axis":{"values":[-0.03,-0.02,-0.01,0,0.01,0.02,0.03],"labelExpr":"replace(format(datum.value,'.2f'),'\u2212','-')","title":"Astrometric shift [pix]","labelPadding":10,"titlePadding":10}},
  "color":{"field":"seg","type":"nominal","title":null,"scale":{"domain":["seg-12","seg-11","seg-13"],"range":["#4C72B0","#55A868","#C44E52"]},"legend":{"orient":"none","legendX":657,"legendY":4,"symbolType":"stroke","symbolSize":2200,"symbolStrokeWidth":1.5,"symbolOpacity":1,"labelFont":"Liberation Sans","labelFontSize":21,"labelColor":"#333","labelOffset":16,"rowPadding":-1}}
 }},
{"data":{"name":"lines"},
 "mark":{"type":"line","strokeWidth":2,"clip":true},
 "encoding":{
  "x":{"field":"x","type":"quantitative"},
  "y":{"field":"y","type":"quantitative"},
  "color":{"field":"seg","type":"nominal","title":null,"legend":{"orient":"none","legendX":657,"legendY":4,"symbolType":"stroke","symbolSize":2200,"symbolStrokeWidth":1.5,"symbolOpacity":1,"labelFont":"Liberation Sans","labelFontSize":21,"labelColor":"#333","labelOffset":16,"rowPadding":-1}}
 }},
{"data":{"values":[{}]},
 "mark":{"type":"rule","strokeDash":[7,5],"strokeWidth":2,"color":"#222"},
 "encoding":{"y":{"datum":0}}}
]
}
